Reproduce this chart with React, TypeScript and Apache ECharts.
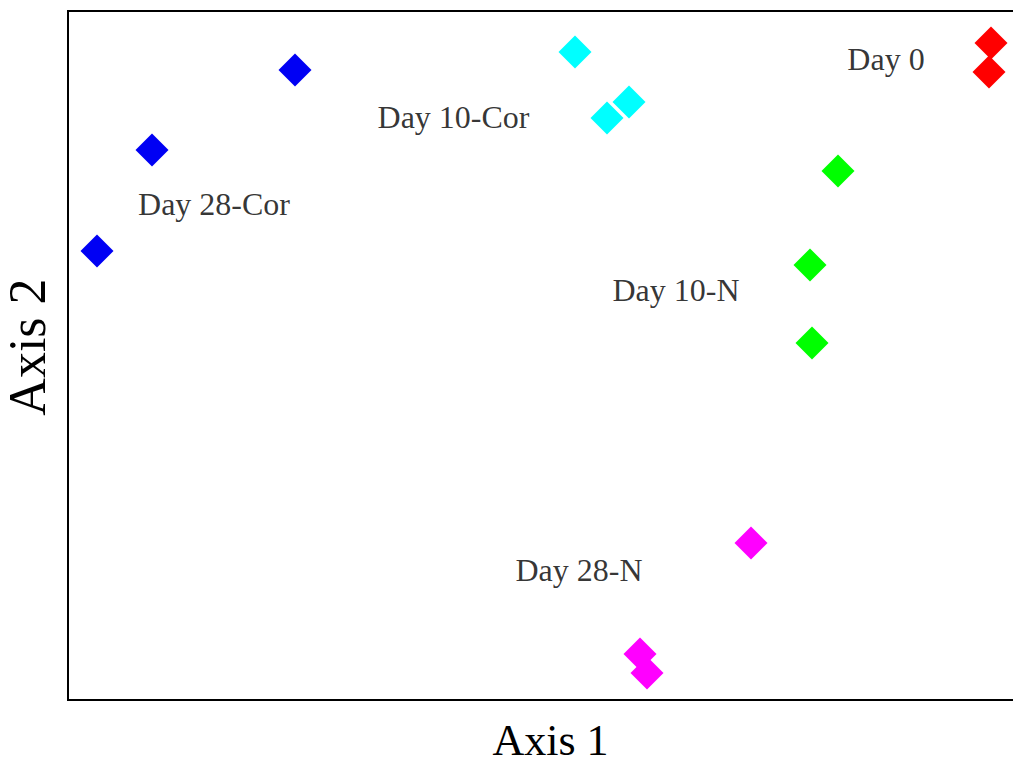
import React, { useEffect, useRef } from "react";
import * as echarts from "echarts";

// Ordination scores [Axis 1, Axis 2] for each sample group
const day0 = [[0.423, 0.307], [0.421, 0.278]];
const day10Cor = [[0.007, 0.298], [0.061, 0.248], [0.039, 0.232]];
const day28Cor = [[-0.273, 0.28], [-0.416, 0.2], [-0.471, 0.099]];
const day10N = [[0.27, 0.179], [0.242, 0.085], [0.244, 0.007]];
const day28N = [[0.183, -0.193], [0.072, -0.304], [0.079, -0.323]];

// Group names and where each name sits in the ordination space
const groupNames = ["Day 0", "Day 10-Cor", "Day 28-Cor", "Day 10-N", "Day 28-N"];
const groupLabelPos = [
  [0.318, 0.2915],
  [-0.1145, 0.233],
  [-0.354, 0.146],
  [0.108, 0.06],
  [0.011, -0.22],
];

const groups = [
  { name: "Day 0", data: day0, color: "#ff0000" },
  { name: "Day 10-Cor", data: day10Cor, color: "#00ffff" },
  { name: "Day 28-Cor", data: day28Cor, color: "#0000f4" },
  { name: "Day 10-N", data: day10N, color: "#00ff00" },
  { name: "Day 28-N", data: day28N, color: "#ff00ff" },
];

const serif = '"Liberation Serif", "Times New Roman", serif';
const frameLine = {
  show: true,
  onZero: false,
  lineStyle: { color: "#000", width: 2, cap: "square" },
};

export default function App() {
  const ref = useRef<HTMLDivElement>(null);

  useEffect(() => {
    if (!ref.current) return;
    const chart = echarts.init(ref.current, null, { renderer: "svg" });
    chart.setOption({
      animation: false,
      backgroundColor: "#ffffff",
      grid: {
        left: 68,
        top: 11,
        bottom: 63,
        right: 0,
        outerBoundsMode: "none",
        containLabel: false,
      },
      xAxis: [
        {
          type: "value",
          position: "bottom",
          min: -0.5,
          max: 0.445,
          name: "Axis 1",
          nameLocation: "middle",
          nameGap: 18,
          nameTextStyle: {
            fontFamily: serif,
            fontSize: 44,
            color: "#000",
            padding: [0, 0, 0, 20],
          },
          axisLine: frameLine,
          axisTick: { show: false },
          axisLabel: { show: false },
          splitLine: { show: false },
        },
        {
          type: "value",
          position: "top",
          min: -0.5,
          max: 0.445,
          axisLine: frameLine,
          axisTick: { show: false },
          axisLabel: { show: false },
          splitLine: { show: false },
        },
      ],
      yAxis: {
        type: "value",
        min: -0.35,
        max: 0.339,
        name: "Axis 2",
        nameLocation: "middle",
        nameGap: 15,
        nameTextStyle: {
          fontFamily: serif,
          fontSize: 52,
          color: "#000",
          padding: [0, 0, 0, 17],
        },
        axisLine: frameLine,
        axisTick: { show: false },
        axisLabel: { show: false },
        splitLine: { show: false },
      },
      series: [
        ...groups.map((g) => ({
          type: "scatter",
          name: g.name,
          data: g.data,
          symbol: "diamond",
          symbolSize: 33,
          itemStyle: { color: g.color, opacity: 1 },
        })),
        {
          type: "scatter",
          name: "labels",
          symbolSize: 0,
          silent: true,
          data: groupNames.map((n, i) => ({ name: n, value: groupLabelPos[i] })),
          label: {
            show: true,
            position: "inside",
            formatter: (p: any) => p.name,
            fontFamily: serif,
            fontSize: 32,
            color: "#000",
            textBorderWidth: 0,
            textBorderColor: "transparent",
          },
        },
      ],
    });
    return () => chart.dispose();
  }, []);

  return (
    <div
      ref={ref}
      style={{ position: "fixed", left: 0, top: 0, width: 1013, height: 763 }}
    />
  );
}
